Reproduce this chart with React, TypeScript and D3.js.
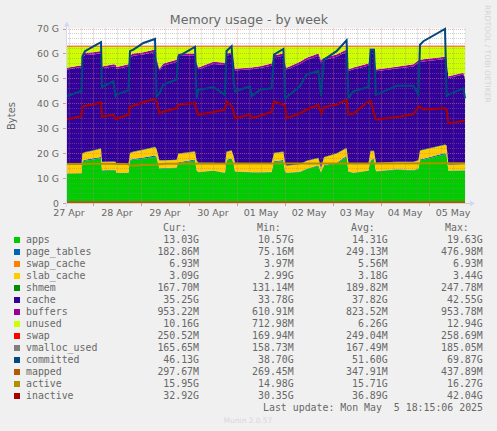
import React from "react";
import * as d3 from "d3";

const W = 497, H = 431;
const hours = [11,17.5,18.3,18.7,20,24.2,28,28.5,34.2,35.3,35.8,41.7,42.5,44.2,49.2,55,55.8,57.2,59.2,65.8,66.7,75,75.8,76.7,84.2,90,90.8,93.3,94.2,95,102.5,103.3,107.5,113.3,114.5,119.2,120,120.8,127.5,130.8,136.7,138,139.5,145.8,150.8,151.7,154.2,161.7,162.8,164.5,165.5,175.8,184.2,186.7,187.5,189.2,200,200.8,201.7,209.2,210];
const apps = [11.7,11.8,11.8,16.5,16.9,17.5,18,12.9,13.1,13,12,12,17,17.3,17.8,18.6,18,13.7,13.8,14,16,17,13,12.3,12.9,12,17,17.5,16,12.5,12.3,12.2,12.2,12.3,16.4,16.8,12.5,12,12.4,13.5,14.8,12.2,14.8,15.8,18.4,12.5,12,12.9,17,17.3,12.6,13.3,13,13.5,17,17.3,19.6,19,12.9,13,13];
const pageTables = [0.18,0.18,0.18,0.4,0.4,0.42,0.45,0.2,0.2,0.2,0.18,0.18,0.38,0.4,0.42,0.45,0.4,0.22,0.22,0.22,0.35,0.4,0.2,0.18,0.18,0.18,0.35,0.38,0.3,0.18,0.18,0.18,0.18,0.18,0.38,0.4,0.2,0.18,0.18,0.22,0.3,0.2,0.3,0.36,0.45,0.2,0.18,0.18,0.36,0.38,0.18,0.2,0.2,0.22,0.4,0.42,0.47,0.4,0.18,0.18,0.18];
const slabTop = [15.2,15.4,15.4,19.8,20.3,21,21.8,16.4,16.5,16.4,15.3,15.3,20,20.5,21.3,22.4,21.5,17,17,17.2,19.7,20.6,17,16,16,15.5,20.5,21,19,16,15.7,15.7,15.7,15.9,20,20.5,16,14.9,15.5,16.8,18,14,18.3,19.8,22,16,15.5,15.7,20.8,20.8,16,16.4,16.4,17,21,21.3,23.3,23,15.3,15.5,15.5];
const cacheTop = [53.9,54.8,54.8,58.8,59.8,60,60.5,54.4,55.2,55,54.2,55.2,58.8,59.5,60,61.1,57.5,53.5,55.5,57,59.5,59.5,56,54,56.2,55.8,59.5,60,58,53.5,54,54,54.5,55.5,58.8,59.5,56,53.9,56.2,57.8,59.5,56.8,57.8,59.1,61.1,53.2,54,55.5,61.5,61.5,53.2,54.3,55.2,56.8,57,57.2,58.2,58,50.5,51.9,50.1];
const committed = [42.8,44.8,44.5,58.8,60.9,62.8,64.5,46.5,48.8,42.8,43.5,45.2,60.9,61.5,64.2,65.8,42.8,44,47.5,49.5,58.8,62.6,42,45.3,46.5,43.4,61,62.9,50,44.8,46.8,42.8,45.4,46,59.5,61.8,42.1,42.5,46.8,51.5,53,43,57.5,60.9,65.3,42,44.8,46.5,61.5,61.5,43.4,47,47,43.5,63.5,64.9,69.8,43,43.5,46,42];
const inactive = [33.6,34.7,34.7,38.7,39,39.5,40.3,34.7,35.4,33.6,33.8,35.4,38.7,39,40.5,41.7,40.7,36,36.7,38,39.4,40,37,35.4,36.5,37.4,40.7,39,37,34,35.4,34,35,36.5,40.7,39.5,39,34,36,37.5,39.4,36,38.5,39.5,41.4,35.5,35.8,40.7,41,36,33.4,34.5,35.6,38.7,38.5,37.5,38,37.5,32,32.9,32.9];
const activeHours = [11,30,41,44,49,55,60,100,140,165,200,210];
const active = [15.6,15.7,15.6,14.9,15.2,15.3,15.7,15.8,15.8,15.8,15.9,15.95];
const mappedHours = [11,210];
const mapped = [0.3,0.3];
const vmallocHours = [11,210];
const vmalloc = [0.17,0.17];
const total = 62.8;
const swap = 0.25;
const yTicks = [0,10,20,30,40,50,60,70];

const legendRows: [string,string,string,string,string,string][] = [
  ["apps","#00cc00","13.03G","10.57G","14.31G","19.63G"],
  ["page_tables","#0066b3","182.86M","75.16M","249.13M","476.98M"],
  ["swap_cache","#ff8000","6.93M","3.97M","5.56M","6.93M"],
  ["slab_cache","#ffcc00","3.09G","2.99G","3.18G","3.44G"],
  ["shmem","#008f00","167.70M","131.14M","189.82M","247.78M"],
  ["cache","#330099","35.25G","33.78G","37.82G","42.55G"],
  ["buffers","#990099","953.22M","610.91M","823.52M","953.78M"],
  ["unused","#ccff00","10.16G","712.98M","6.26G","12.94G"],
  ["swap","#ff0000","250.52M","169.94M","249.04M","258.69M"],
  ["vmalloc_used","#808080","165.65M","158.73M","167.49M","185.05M"],
  ["committed","#00487d","46.13G","38.70G","51.60G","69.87G"],
  ["mapped","#b35a00","297.67M","269.45M","347.91M","437.89M"],
  ["active","#b38f00","15.95G","14.98G","15.71G","16.27G"],
  ["inactive","#a80000","32.92G","30.35G","36.89G","42.04G"],
];

const T0 = Date.UTC(2025, 3, 27);
const toDate = (h: number) => new Date(T0 + h * 3600e3);
const x = d3.scaleUtc().domain([toDate(10.5), toDate(210.5)]).range([66, 466]);
const y = d3.scaleLinear().domain([0, 70]).range([203, 28.5]);

const shmem = hours.map(() => 0.17);
const swapCache = hours.map(() => 0.007);
const buffers = hours.map((_, i) => (cacheTop[i] < 55 ? 0.65 : 0.9));
const rows = hours.map((h, i) => {
  const slab = slabTop[i] - apps[i] - pageTables[i] - swapCache[i];
  const cache = cacheTop[i] - slabTop[i] - shmem[i] - buffers[i] * 0.5;
  const sum = apps[i] + pageTables[i] + swapCache[i] + slab + shmem[i] + cache + buffers[i];
  return { h, apps: apps[i], page_tables: pageTables[i], swap_cache: swapCache[i], slab_cache: slab, shmem: shmem[i], cache, buffers: buffers[i], unused: total - sum, swap };
});
const stackKeys = ["apps","page_tables","swap_cache","slab_cache","shmem","cache","buffers","unused","swap"];
const colorOf = new Map(legendRows.map(r => [r[0], r[1]]));
const stacked = d3.stack<any>().keys(stackKeys)(rows);
const area = d3.area<any>().x(d => x(toDate(d.data.h))).y0(d => y(d[0])).y1(d => y(d[1]));
const line = (hs: number[], vs: number[]) =>
  d3.line<number>().x((_, i) => x(toDate(hs[i]))).y(d => y(d))(vs) as string;

const minorY = d3.range(0, 71, 2).filter(v => v % 10 !== 0);
const minorX = d3.utcHour.range(toDate(10.5), toDate(210.5), 1).filter(d => d.getUTCHours() % 6 === 0 && d.getUTCHours() !== 0);
const days = d3.utcDay.range(toDate(10.5), toDate(210.5));
const noon = days.map(d => new Date(+d - 12 * 3600e3)).concat([new Date(+days[days.length - 1] + 12 * 3600e3)]);
const fmt = d3.utcFormat("%d %b");

const GRAY = "#686868";
const cols = [163, 257, 351, 445];
const valEnds = [199, 293.7, 387.7, 482.7];
const heads = ["Cur:", "Min:", "Avg:", "Max:"];
export default function App() {
  return (
    <svg width={W} height={H} viewBox={`0 0 ${W} ${H}`} style={{ position: "absolute", left: 0, top: 0, background: "#f0f0f0" }}>
      <rect x={66} y={28.5} width={400} height={174.5} fill="#ffffff" />
      {stacked.map(s => <path key={s.key} d={area(s) as string} fill={colorOf.get(s.key)} />)}
      {minorY.map(v => <line key={v} x1={66} x2={466} y1={Math.round(y(v)) + 0.5} y2={Math.round(y(v)) + 0.5} stroke="#8a8a8a" strokeOpacity={0.4} strokeWidth={1} strokeDasharray="1 1" />)}
      {minorX.map(d => <line key={+d} x1={Math.round(x(d)) + 0.5} x2={Math.round(x(d)) + 0.5} y1={28.5} y2={203} stroke="#8a8a8a" strokeOpacity={0.4} strokeDasharray="1 1" />)}
      {yTicks.map(v => <line key={v} x1={66} x2={466} y1={Math.round(y(v)) + 0.5} y2={Math.round(y(v)) + 0.5} stroke="#e07a7a" strokeOpacity={0.55} strokeDasharray="1 1" />)}
      {days.map(d => <line key={+d} x1={Math.round(x(d)) + 0.5} x2={Math.round(x(d)) + 0.5} y1={28.5} y2={203} stroke="#e07a7a" strokeOpacity={0.55} strokeDasharray="1 1" />)}
      <path d={line(vmallocHours, vmalloc)} fill="none" stroke={colorOf.get("vmalloc_used")} strokeWidth={1.5} />
      <path d={line(hours, committed)} fill="none" stroke={colorOf.get("committed")} strokeWidth={2} />
      <path d={line(mappedHours, mapped)} fill="none" stroke={colorOf.get("mapped")} strokeWidth={1.8} />
      <path d={line(activeHours, active)} fill="none" stroke={colorOf.get("active")} strokeWidth={2} />
      <path d={line(hours, inactive)} fill="none" stroke={colorOf.get("inactive")} strokeWidth={2} />
      <line x1={66} x2={470} y1={203.5} y2={203.5} stroke="#d0d0d0" />
      <line x1={66.5} x2={66.5} y1={25} y2={207} stroke="#d8d8f0" />
      <path d="M64 26.5 L69.5 26.5 L66.75 21.5 Z" fill="#cfd8f8" />
      <path d="M470 200.5 L470 206.5 L475 203.5 Z" fill="#cfd8f8" />
      {days.map(d => <line key={+d} x1={Math.round(x(d)) + 0.5} x2={Math.round(x(d)) + 0.5} y1={203} y2={206} stroke="#cf9a9a" />)}
      {yTicks.map(v => <line key={v} x1={63} x2={66} y1={Math.round(y(v)) + 0.5} y2={Math.round(y(v)) + 0.5} stroke="#cf9a9a" />)}

      <g fontFamily="'DejaVu Sans'" fill={GRAY}>
        <text x={249} y={24} fontSize={12.6} textAnchor="middle">Memory usage - by week</text>
        {yTicks.map(v => <text key={v} x={59} y={y(v) + 3.5} fontSize={9.3} textAnchor="end">{v === 0 ? "0" : `${v} G`}</text>)}
        {noon.map(d => <text key={+d} x={x(d)} y={216} fontSize={9.5} textAnchor="middle">{fmt(d)}</text>)}
        <text transform="translate(15 116) rotate(-90)" fontSize={10} textAnchor="middle">Bytes</text>
      </g>
      <text transform="translate(485 5) rotate(90)" fontSize={7.6} fontFamily="'DejaVu Sans'" fill="#d4d4d4">RRDTOOL / TOBI OETIKER</text>
      <text x={248} y={423} fontSize={7.4} fontFamily="'DejaVu Sans'" fill="#d8d8d8" textAnchor="middle">Munin 2.0.57</text>

      <g fontFamily="'DejaVu Sans Mono'" fontSize={9.9} fill={GRAY} style={{ whiteSpace: "pre" }}>
        {heads.map((t, i) => <text key={t} x={cols[i]} y={231}>{t}</text>)}
        {legendRows.map((r, i) => {
          const ly = 243 + i * 12;
          return (
            <g key={r[0]}>
              <rect x={14} y={ly - 6} width={6} height={6} fill={r[1]} />
              <text x={26} y={ly}>{r[0]}</text>
              {[r[2], r[3], r[4], r[5]].map((v, k) => <text key={k} x={valEnds[k]} y={ly} textAnchor="end">{v}</text>)}
            </g>
          );
        })}
        <text x={483} y={411} textAnchor="end" xmlSpace="preserve">Last update: Mon May  5 18:15:06 2025</text>
      </g>
    </svg>
  );
}
